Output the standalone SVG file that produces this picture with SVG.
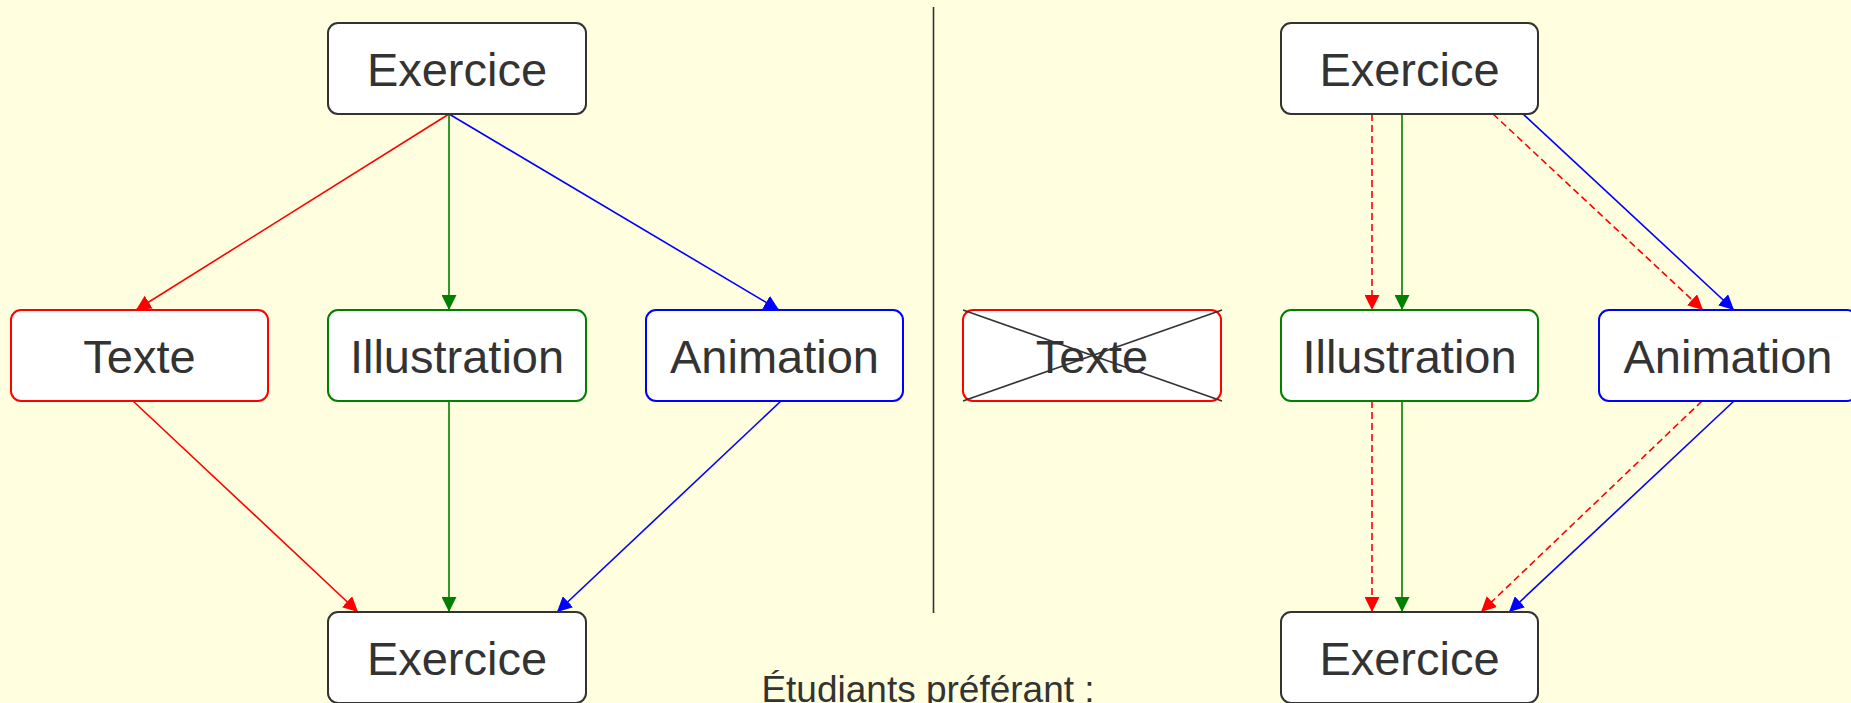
<svg xmlns="http://www.w3.org/2000/svg" width="1851" height="703" viewBox="0 0 1851 703">
  <style>
    .box { fill: #ffffff; stroke-width: 2; }
    .k { stroke: #333333; }
    .r { stroke: #ff0000; }
    .g { stroke: #008000; }
    .b { stroke: #0000ff; }
    .lbl { font-family: "Liberation Sans", Arial, sans-serif; font-size: 47px; fill: #333333; text-anchor: middle; }
    .cap { font-family: "Liberation Sans", Arial, sans-serif; font-size: 37px; fill: #333333; text-anchor: middle; }
    .edge { fill: none; stroke-width: 1.6; }
    .dash { stroke-dasharray: 7 4; }
    .cross { stroke: #333333; stroke-width: 1.6; }
  </style>
  <defs>
    <marker id="ar" markerUnits="userSpaceOnUse" markerWidth="15" markerHeight="15" refX="15" refY="7.5" orient="auto">
      <path d="M0,0 L15,7.5 L0,15 Z" fill="#ff0000"/>
    </marker>
    <marker id="ag" markerUnits="userSpaceOnUse" markerWidth="15" markerHeight="15" refX="15" refY="7.5" orient="auto">
      <path d="M0,0 L15,7.5 L0,15 Z" fill="#008000"/>
    </marker>
    <marker id="ab" markerUnits="userSpaceOnUse" markerWidth="15" markerHeight="15" refX="15" refY="7.5" orient="auto">
      <path d="M0,0 L15,7.5 L0,15 Z" fill="#0000ff"/>
    </marker>
  </defs>

  <rect x="0" y="0" width="1851" height="703" fill="#ffffe0"/>

  <!-- separator between the two scenarios -->
  <line x1="933.5" y1="7" x2="933.5" y2="613" stroke="#333333" stroke-width="1.6"/>

  <g id="connectors">
    <!-- left scenario -->
    <line class="edge r" x1="449" y1="114" x2="136" y2="310" marker-end="url(#ar)"/>
    <line class="edge g" x1="449" y1="114" x2="449" y2="310" marker-end="url(#ag)"/>
    <line class="edge b" x1="449" y1="114" x2="779" y2="310" marker-end="url(#ab)"/>
    <line class="edge r" x1="133" y1="401" x2="358" y2="612" marker-end="url(#ar)"/>
    <line class="edge g" x1="449" y1="401" x2="449" y2="612" marker-end="url(#ag)"/>
    <line class="edge b" x1="781" y1="401" x2="557" y2="612" marker-end="url(#ab)"/>
    <!-- right scenario -->
    <line class="edge r dash" x1="1372" y1="114" x2="1372" y2="310" marker-end="url(#ar)"/>
    <line class="edge g" x1="1402" y1="114" x2="1402" y2="310" marker-end="url(#ag)"/>
    <line class="edge r dash" x1="1493" y1="114" x2="1703" y2="310" marker-end="url(#ar)"/>
    <line class="edge b" x1="1523" y1="114" x2="1734" y2="310" marker-end="url(#ab)"/>
    <line class="edge r dash" x1="1372" y1="401" x2="1372" y2="612" marker-end="url(#ar)"/>
    <line class="edge g" x1="1402" y1="401" x2="1402" y2="612" marker-end="url(#ag)"/>
    <line class="edge r dash" x1="1702" y1="401" x2="1481" y2="612" marker-end="url(#ar)"/>
    <line class="edge b" x1="1734" y1="401" x2="1509" y2="612" marker-end="url(#ab)"/>
  </g>

  <!-- left scenario nodes -->
  <g id="ex-top-left">
    <rect class="box k" x="328" y="23" width="258" height="91" rx="10"/>
    <text class="lbl" x="457" y="85.5">Exercice</text>
  </g>
  <g id="texte-left">
    <rect class="box r" x="11" y="310" width="257" height="91" rx="10"/>
    <text class="lbl" x="139.5" y="372.5">Texte</text>
  </g>
  <g id="illustration-left">
    <rect class="box g" x="328" y="310" width="258" height="91" rx="10"/>
    <text class="lbl" x="457" y="372.5">Illustration</text>
  </g>
  <g id="animation-left">
    <rect class="box b" x="646" y="310" width="257" height="91" rx="10"/>
    <text class="lbl" x="774.5" y="372.5">Animation</text>
  </g>
  <g id="ex-bottom-left">
    <rect class="box k" x="328" y="612" width="258" height="91" rx="10"/>
    <text class="lbl" x="457" y="674.5">Exercice</text>
  </g>

  <!-- right scenario nodes -->
  <g id="ex-top-right">
    <rect class="box k" x="1281" y="23" width="257" height="91" rx="10"/>
    <text class="lbl" x="1409.5" y="85.5">Exercice</text>
  </g>
  <g id="texte-right">
    <rect class="box r" x="963" y="310" width="258" height="91" rx="10"/>
    <text class="lbl" x="1092" y="372.5">Texte</text>
    <line class="cross" x1="963" y1="310" x2="1222" y2="401"/>
    <line class="cross" x1="963" y1="401" x2="1222" y2="310"/>
  </g>
  <g id="illustration-right">
    <rect class="box g" x="1281" y="310" width="257" height="91" rx="10"/>
    <text class="lbl" x="1409.5" y="372.5">Illustration</text>
  </g>
  <g id="animation-right">
    <rect class="box b" x="1599" y="310" width="258" height="91" rx="10"/>
    <text class="lbl" x="1728" y="372.5">Animation</text>
  </g>
  <g id="ex-bottom-right">
    <rect class="box k" x="1281" y="612" width="257" height="91" rx="10"/>
    <text class="lbl" x="1409.5" y="674.5">Exercice</text>
  </g>

  <text class="cap" x="928" y="702">Étudiants préférant :</text>
</svg>
